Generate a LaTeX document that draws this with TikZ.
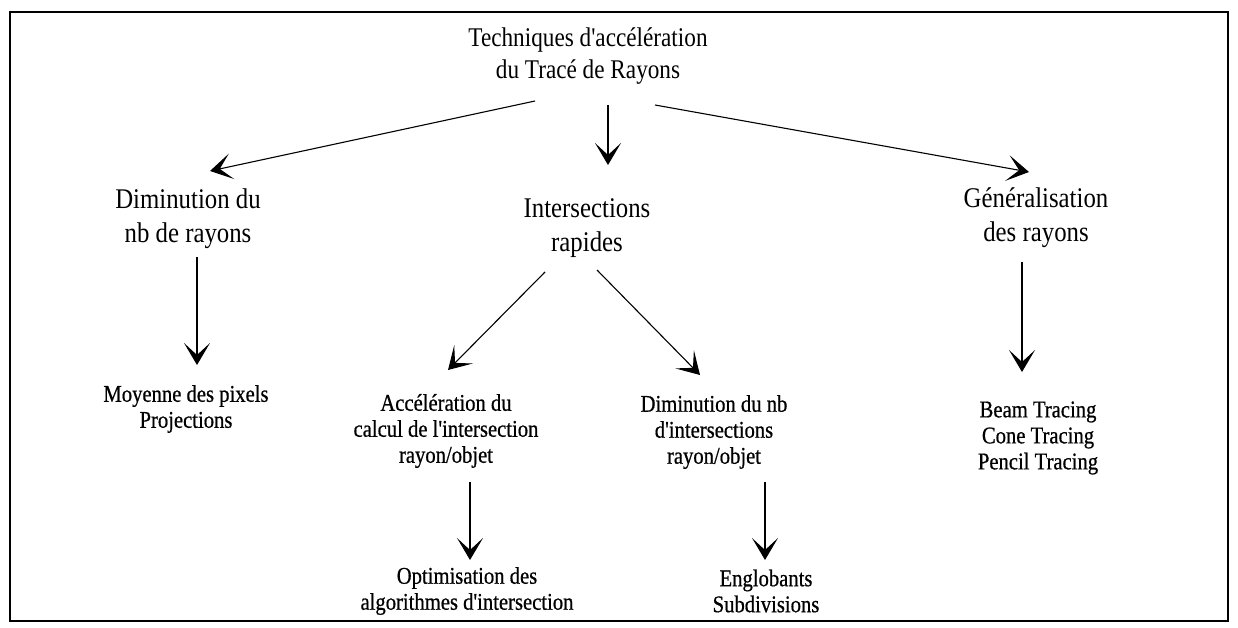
\documentclass[tikz,border=0pt]{standalone}
\usepackage{fontspec}
\usetikzlibrary{calc,arrows.meta}
\newfontfamily\lbl[FakeStretch=0.86]{Liberation Serif}
\newfontfamily\lblo[FakeStretch=0.87]{Liberation Serif}
\newfontfamily\lblb[FakeStretch=0.86,FakeBold=0.6]{Liberation Serif}
\tikzset{
  ttl/.style={align=center,inner sep=0pt,font=\lbl\fontsize{27}{32}\selectfont},
  lone/.style={align=center,inner sep=0pt,font=\lblo\fontsize{28.5}{34}\selectfont},
  ltwo/.style={align=center,inner sep=0pt,font=\lblb\fontsize{24}{26}\selectfont},
  arr/.style={line width=1.1pt,-{Stealth[length=22pt,width=26pt,inset=12pt]}},
  frame/.style={line width=2.5pt}
}
\begin{document}
\begin{tikzpicture}[x=1pt,y=-1pt]
\useasboundingbox (0,0) rectangle (1238,628);
\draw[frame] (10,12) rectangle (1228,621);
\node[ttl] (title) at (588,56) {Techniques d'accélération\\du Tracé de Rayons};
\node[lone] (dim) at (188,219) {Diminution du\\nb de rayons};
\node[lone] (inter) at (587,228) {Intersections\\rapides};
\node[lone] (gen) at (1036,218) {Généralisation\\des rayons};
\node[ltwo] (moy) at (186,409) {Moyenne des pixels\\Projections};
\node[ltwo] (acc) at (446,431) {Accélération du\\calcul de l'intersection\\rayon/objet};
\node[ltwo] (dimnb) at (714,432) {Diminution du nb\\d'intersections\\rayon/objet};
\node[ltwo] (beam) at (1038,438) {Beam Tracing\\Cone Tracing\\Pencil Tracing};
\node[ltwo] (opt) at (467,591) {Optimisation des\\algorithmes d'intersection};
\node[ltwo] (engl) at (766,591) {Englobants\\Subdivisions};
\draw[arr] ($(title.center)+(-53,45)$) -- ($(dim.center)+(22,-48)$);
\draw[arr] ($(title.center)+(20,49)$) -- ($(inter.center)+(21,-63)$);
\draw[arr] ($(title.center)+(67,49)$) -- ($(gen.center)+(-7,-46)$);
\draw[arr] ($(dim.center)+(9,38)$) -- ($(moy.center)+(11,-44)$);
\draw[arr] ($(inter.center)+(-42,44)$) -- ($(acc.center)+(2,-61)$);
\draw[arr] ($(inter.center)+(10,42)$) -- ($(dimnb.center)+(-14,-57)$);
\draw[arr] ($(acc.center)+(24,51)$) -- ($(opt.center)+(3,-31)$);
\draw[arr] ($(dimnb.center)+(51,50)$) -- ($(engl.center)+(-1,-31)$);
\draw[arr] ($(gen.center)+(-14,44)$) -- ($(beam.center)+(-16,-66)$);
\end{tikzpicture}
\end{document}
